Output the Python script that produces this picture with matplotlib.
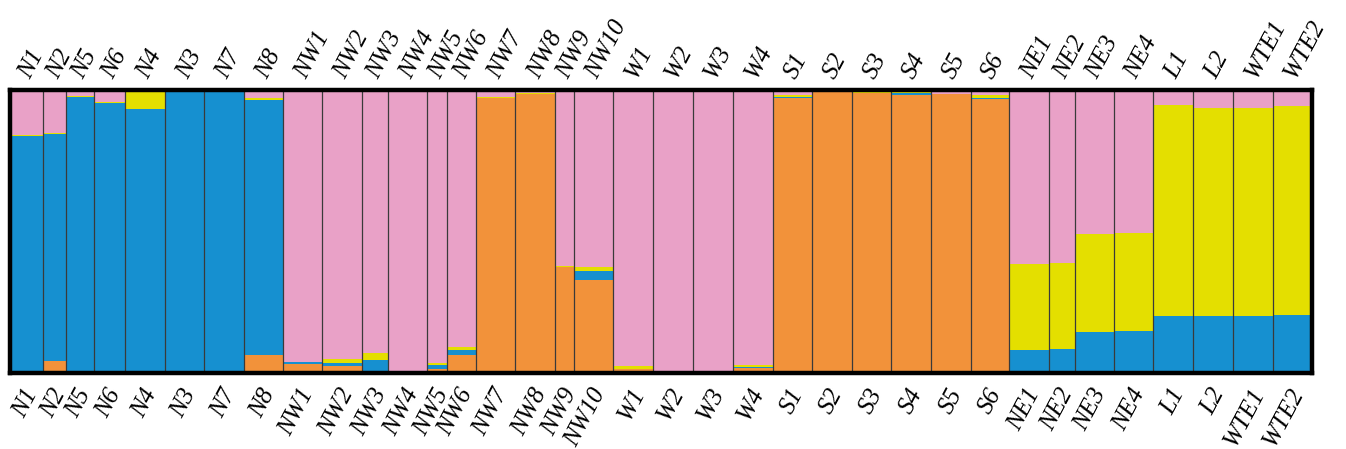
import numpy as np
import matplotlib
matplotlib.use("Agg")
import matplotlib.pyplot as plt

populations = ["N1", "N2", "N5", "N6", "N4", "N3", "N7", "N8",
               "NW1", "NW2", "NW3", "NW4", "NW5", "NW6", "NW7", "NW8", "NW9", "NW10",
               "W1", "W2", "W3", "W4",
               "S1", "S2", "S3", "S4", "S5", "S6",
               "NE1", "NE2", "NE3", "NE4", "L1", "L2", "WTE1", "WTE2"]

# relative bar widths (sample sizes)
sizes = [33, 23, 28, 31, 40, 39, 40, 39,
         39, 40, 26, 39, 20, 29, 39, 40, 19, 39,
         40, 39, 40, 40,
         39, 40, 39, 40, 40, 38,
         40, 26, 39, 39, 40, 40, 40, 39]

# ancestry proportions per cluster, stacked bottom -> top
orange = [0, 0.044, 0, 0.005, 0, 0, 0, 0.065,
          0.032, 0.024, 0.006, 0.002, 0.014, 0.065, 0.973, 0.985, 0.373, 0.329,
          0.014, 0.003, 0.003, 0.018,
          0.972, 0.994, 0.991, 0.982, 0.986, 0.967,
          0.003, 0.006, 0, 0, 0, 0.008, 0.008, 0.008]
blue = [0.837, 0.799, 0.977, 0.950, 0.932, 0.993, 0.996, 0.901,
        0.006, 0.010, 0.041, 0, 0.015, 0.018, 0, 0, 0, 0.032,
        0, 0, 0, 0.004,
        0.005, 0, 0, 0.006, 0, 0.006,
        0.080, 0.079, 0.145, 0.149, 0.202, 0.192, 0.194, 0.198]
yellow = [0.004, 0.004, 0.003, 0.003, 0.068, 0.004, 0.002, 0.004,
          0.002, 0.016, 0.024, 0.002, 0.008, 0.008, 0.003, 0.003, 0.004, 0.012,
          0.009, 0.002, 0.002, 0.008,
          0.004, 0, 0.003, 0.006, 0, 0.009,
          0.302, 0.303, 0.347, 0.345, 0.745, 0.738, 0.733, 0.739]
pink = [0.159, 0.153, 0.020, 0.042, 0, 0.003, 0.002, 0.030,
        0.960, 0.950, 0.929, 0.996, 0.963, 0.909, 0.024, 0.012, 0.623, 0.627,
        0.977, 0.995, 0.995, 0.970,
        0.019, 0.006, 0.006, 0.006, 0.014, 0.018,
        0.615, 0.612, 0.508, 0.506, 0.053, 0.062, 0.065, 0.055]

clusters = [orange, blue, yellow, pink]
colors = ["#F2923A", "#1690D0", "#E4DF00", "#E9A1C7"]

widths = np.array(sizes, dtype=float)
lefts = np.concatenate([[0], np.cumsum(widths)[:-1]])
centers = lefts + widths / 2

fig = plt.figure(figsize=(13.46, 4.49), dpi=100)
ax = fig.add_axes([10 / 1346, 76 / 449, 1302 / 1346, 283 / 449])

bottom = np.zeros(len(populations))
for vals, col in zip(clusters, colors):
    vals = np.array(vals)
    ax.bar(lefts, vals, width=widths, bottom=bottom, align="edge",
           color=col, linewidth=0)
    bottom += vals

# thin separators between populations
ax.vlines(lefts[1:], 0, 1, colors="#3a3a3a", linewidth=0.9)

ax.set_xlim(0, widths.sum())
ax.set_ylim(0, 1)
ax.set_xticks([])
ax.set_yticks([])
for s in ax.spines.values():
    s.set_linewidth(3.2)
    s.set_color("black")

font = dict(family="Liberation Serif", fontsize=18, style="italic")
tr = ax.get_xaxis_transform()
for c, name in zip(centers, populations):
    ax.text(c - 2, 1.045, name, rotation=62, rotation_mode="anchor",
            ha="left", va="center", transform=tr, **font)
    ax.text(c + 6, -0.06, name, rotation=62, rotation_mode="anchor",
            ha="right", va="center", transform=tr, **font)

fig.savefig("out.png", dpi=100)
